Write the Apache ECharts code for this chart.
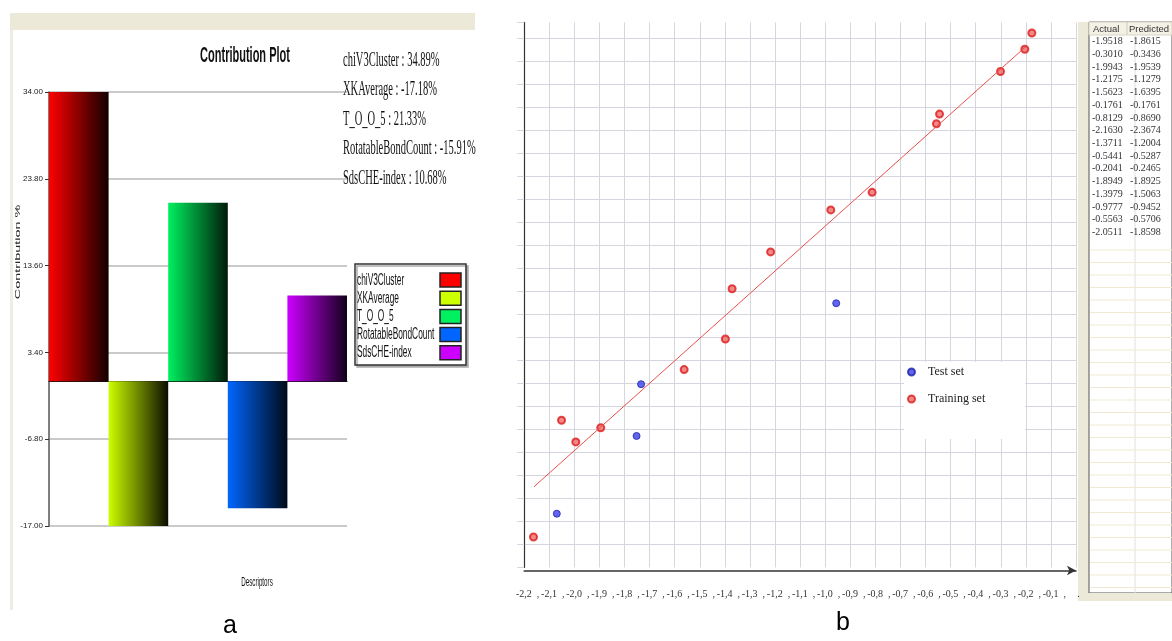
<!DOCTYPE html>
<html>
<head>
<meta charset="utf-8">
<script src="https://cdn.jsdelivr.net/npm/echarts@6/dist/echarts.min.js"></script>
<style>
  html, body { margin: 0; padding: 0; background: #fff; }
  #chart { width: 1172px; height: 641px; }
</style>
</head>
<body>
<div id="chart"></div>
<script>
// panel a: contribution plot
const descriptors = ["chiV3Cluster", "XKAverage", "T_O_O_5", "RotatableBondCount", "SdsCHE-index"];
const barHeights = [34.0, -17.0, 21.0, -14.9, 10.1]; // as drawn
const contributionText = ["34.89%", "-17.18%", "21.33%", "-15.91%", "10.68%"];
const barStart = ["#ff0000", "#ccff00", "#00f060", "#0066ff", "#cc00ff"];
const barEnd = ["#120000", "#0c0c00", "#001a08", "#000a18", "#12001a"];

// panel b: actual vs predicted
const trainActual = [-2.163, -2.0511, -1.9943, -1.8949, -1.5623, -1.3979, -1.3711, -1.2175, -0.9777, -0.8129, -0.5563, -0.5441, -0.301, -0.2041, -0.1761];
const trainPredicted = [-2.3674, -1.8598, -1.9539, -1.8925, -1.6395, -1.5063, -1.288, -1.1279, -0.9452, -0.869, -0.5706, -0.5287, -0.3436, -0.2465, -0.1761];
const testActual = [-2.07, -1.734, -1.752, -0.956];
const testPredicted = [-2.266, -1.703, -1.928, -1.351];
const fitX = [-2.161, -0.2];
const fitY = [-2.149, -0.235];

// table at the right
const tableActual = [-1.9518, -0.301, -1.9943, -1.2175, -1.5623, -0.1761, -0.8129, -2.163, -1.3711, -0.5441, -0.2041, -1.8949, -1.3979, -0.9777, -0.5563, -2.0511];
const tablePredicted = [-1.8615, -0.3436, -1.9539, -1.1279, -1.6395, -0.1761, -0.869, -2.3674, -1.2004, -0.5287, -0.2465, -1.8925, -1.5063, -0.9452, -0.5706, -1.8598];

const SANS = "'Liberation Sans', Arial, sans-serif";
const SERIF = "'Liberation Serif', 'Times New Roman', serif";

const chart = echarts.init(document.getElementById("chart"));

function txt(text, x, y, o) {
  return {
    type: "text", x, y, scaleX: o.sx || 1, scaleY: o.sy || 1, rotation: o.rot || 0, z: 10,
    style: {
      text, fill: o.color || "#111", fontFamily: o.family || SANS, fontSize: o.size || 12,
      fontWeight: o.weight || "normal", align: o.align || "left", verticalAlign: "middle",
    },
  };
}

const graphics = [
  { type: "rect", shape: { x: 10, y: 13, width: 465, height: 17 }, style: { fill: "#ece9d8" } },
  { type: "rect", shape: { x: 10, y: 30, width: 3, height: 580 }, style: { fill: "#efece2" } },
  txt("Contribution Plot", 245, 56, { size: 22, weight: "bold", align: "center", sx: 0.5 }),
  txt("Contribution %", 18, 252, { size: 12, rot: Math.PI / 2, align: "center", sx: 1.2, sy: 0.65, color: "#222" }),
  txt("Descriptors", 257, 582, { size: 13, align: "center", sx: 0.48 }),
  txt("a", 230, 626, { size: 25, align: "center", color: "#000" }),
  txt("b", 843, 623, { size: 25, align: "center", color: "#000" }),
  // legend box of panel a
  {
    type: "rect", z: 9, shape: { x: 355, y: 264, width: 111, height: 101 },
    style: { fill: "#fff", stroke: "#333", lineWidth: 1.5, shadowColor: "#aaa", shadowOffsetX: 2, shadowOffsetY: 2 },
  },
];
descriptors.forEach((d, i) => {
  graphics.push(txt(d + " : " + contributionText[i], 343, 60 + i * 29.5, { family: SERIF, size: 21, sx: 0.5 }));
  graphics.push(txt(d, 357, 280 + i * 18.2, { size: 17, sx: 0.49 }));
  graphics.push({
    type: "rect", z: 10, shape: { x: 440, y: 273 + i * 18.2, width: 21, height: 14 },
    style: { fill: barStart[i], stroke: "#222", lineWidth: 1.5 },
  });
});

// table
graphics.push(
  { type: "rect", shape: { x: 1078, y: 22, width: 11, height: 578 }, style: { fill: "#ece9d8" } },
  { type: "rect", shape: { x: 1089, y: 22, width: 83, height: 571 }, style: { fill: "#fff", stroke: "#555", lineWidth: 1 } },
  { type: "rect", shape: { x: 1089, y: 22, width: 83, height: 13 }, style: { fill: "#f3f1e6", stroke: "#d8d4c4", lineWidth: 1 } },
  { type: "rect", shape: { x: 1078, y: 593, width: 94, height: 8 }, style: { fill: "#ece9d8" } },
  { type: "line", shape: { x1: 1127, y1: 22, x2: 1127, y2: 35 }, style: { stroke: "#cfcab8", lineWidth: 1 } },
  { type: "line", shape: { x1: 1135, y1: 35, x2: 1135, y2: 593 }, style: { stroke: "#e3e0d4", lineWidth: 1 } },
  txt("Actual", 1093, 29, { size: 9.5, color: "#333" }),
  txt("Predicted", 1129, 29, { size: 9.5, color: "#333" })
);
tableActual.forEach((a, i) => {
  graphics.push(txt(a.toFixed(4), 1092, 41.5 + i * 12.73, { family: SERIF, size: 10, color: "#333" }));
  graphics.push(txt(tablePredicted[i].toFixed(4), 1130, 41.5 + i * 12.73, { family: SERIF, size: 10, color: "#333" }));
});
for (let y = 250; y < 592; y += 12.5) {
  graphics.push({ type: "line", shape: { x1: 1090, y1: y, x2: 1172, y2: y }, style: { stroke: "#efebd2", lineWidth: 1 } });
}

const gridB = "#d6d6e0";

chart.setOption({
  animation: false,
  grid: [
    { left: 49, top: 92, width: 298, height: 434 },
    { left: 524.2, top: 22.4, width: 551.8, height: 545.1 },
  ],
  xAxis: [
    {
      gridIndex: 0, type: "category", data: descriptors,
      axisLine: { onZero: true, lineStyle: { color: "#111", width: 1.2 } },
      axisTick: { show: false }, axisLabel: { show: false }, splitLine: { show: false },
    },
    {
      gridIndex: 1, type: "value", min: -2.2, max: 0, interval: 0.1, offset: 3,
      axisLine: { onZero: false, lineStyle: { color: "#333", width: 1.5 }, symbol: ["none", "arrow"], symbolSize: [7, 9] },
      axisTick: { show: false },
      splitLine: { show: true, lineStyle: { color: gridB, width: 1 } },
      axisLabel: {
        margin: 19,
        formatter: (v) => {
          const r = Math.round(v * 10) / 10;
          if (r === 0) return "{s|.}";
          return "{n|" + r.toFixed(1).replace(".", ",") + "}{s|,}";
        },
        rich: {
          n: { fontFamily: SERIF, fontSize: 10, color: "#333", padding: [0, 0, 0, 7] },
          s: { fontFamily: SERIF, fontSize: 10, color: "#333", padding: [0, 0, 0, 5] },
        },
      },
    },
  ],
  yAxis: [
    {
      gridIndex: 0, type: "value", min: -17, max: 34, interval: 10.2,
      axisLine: { show: true, lineStyle: { color: "#555", width: 1.5 } },
      axisTick: { show: true, length: 4, lineStyle: { color: "#333" } },
      axisLabel: { margin: 6, fontFamily: SANS, fontSize: 8, color: "#222", formatter: (v) => v.toFixed(2) },
      splitLine: { show: true, lineStyle: { color: "#b8b8b8", width: 1.5 } },
    },
    {
      gridIndex: 1, type: "value", min: -2.5, max: -0.13, interval: 0.1,
      axisLine: { show: true, onZero: false, lineStyle: { color: "#333", width: 1.2 } },
      axisTick: { show: true, length: 7, lineStyle: { color: gridB } },
      axisLabel: { show: false },
      splitLine: { show: true, showMinLine: false, showMaxLine: false, lineStyle: { color: gridB, width: 1 } },
    },
  ],
  legend: {
    data: ["Test set", "Training set"], orient: "vertical", left: 904, top: 362,
    backgroundColor: "#fff", padding: [4, 40, 34, 3], itemGap: 15,
    itemWidth: 7, itemHeight: 7, icon: "circle",
    textStyle: { fontFamily: SERIF, fontSize: 12, color: "#222", padding: [0, 0, 0, 8] },
  },
  series: [
    {
      type: "bar", xAxisIndex: 0, yAxisIndex: 0, barWidth: "100%", clip: true,
      data: barHeights.map((v, i) => ({
        value: v,
        itemStyle: {
          color: new echarts.graphic.LinearGradient(0, 0, 1, 0, [
            { offset: 0, color: barStart[i] },
            { offset: 1, color: barEnd[i] },
          ]),
        },
      })),
    },
    {
      type: "line", xAxisIndex: 1, yAxisIndex: 1, showSymbol: false, silent: true,
      data: fitX.map((x, i) => [x, fitY[i]]),
      lineStyle: { color: "#e8504a", width: 1 },
    },
    {
      name: "Test set", type: "scatter", xAxisIndex: 1, yAxisIndex: 1, symbolSize: 7,
      data: testActual.map((x, i) => [x, testPredicted[i]]),
      itemStyle: { color: "#3b3ee6", borderColor: "#1c22a8", borderWidth: 1 },
    },
    {
      name: "Training set", type: "scatter", xAxisIndex: 1, yAxisIndex: 1, symbolSize: 7,
      data: trainActual.map((x, i) => [x, trainPredicted[i]]),
      itemStyle: { color: "#f06a6a", borderColor: "#dc1c1c", borderWidth: 2 },
    },
  ],
  graphic: graphics,
});
</script>
</body>
</html>
